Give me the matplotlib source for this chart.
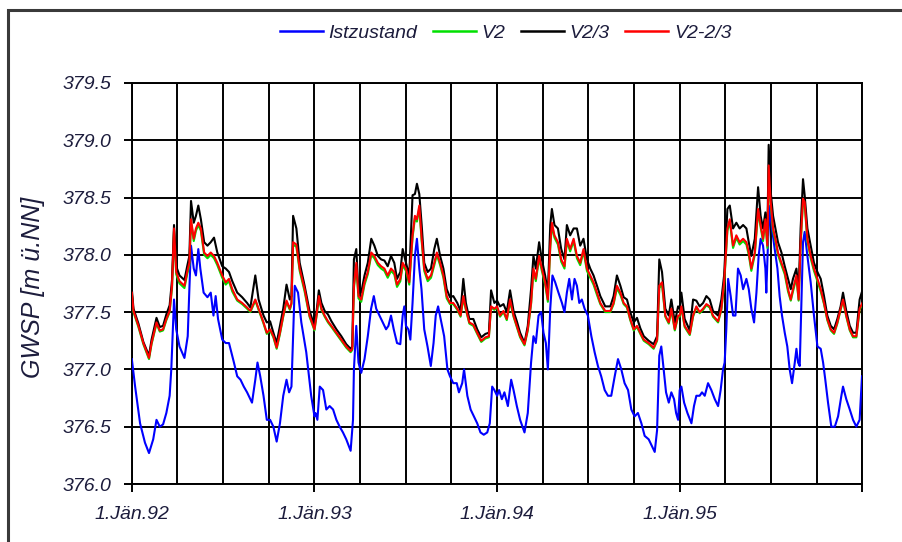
import matplotlib
matplotlib.use('Agg')
import matplotlib.pyplot as plt
from matplotlib.patches import Rectangle
from matplotlib.ticker import MultipleLocator, FixedLocator

plt.rcParams['font.family'] = ['Liberation Sans', 'DejaVu Sans']

# Zeit in Jahren ab 1.1.1992, GWSP in m ü.NN
t_ist = [
    0.000, 0.018, 0.045, 0.072, 0.094, 0.117, 0.135, 0.153, 0.171, 0.189,
    0.207, 0.216, 0.231, 0.243, 0.261, 0.288, 0.306, 0.315, 0.324, 0.339,
    0.351, 0.364, 0.375, 0.393, 0.414, 0.432, 0.447, 0.459, 0.472, 0.495,
    0.514, 0.532, 0.559, 0.577, 0.595, 0.613, 0.631, 0.658, 0.676, 0.688,
    0.703, 0.721, 0.739, 0.757, 0.775, 0.793, 0.811, 0.829, 0.847, 0.861,
    0.874, 0.892, 0.910, 0.928, 0.955, 0.982,
    1.000, 1.005, 1.016, 1.029, 1.047, 1.065, 1.083, 1.102, 1.120, 1.138,
    1.156, 1.174, 1.198, 1.211, 1.216, 1.229, 1.241, 1.256, 1.274, 1.292,
    1.310, 1.325, 1.338, 1.356, 1.374, 1.392, 1.405, 1.419, 1.434, 1.452,
    1.470, 1.483, 1.492, 1.501, 1.514, 1.525, 1.537, 1.550, 1.561, 1.574,
    1.586, 1.601, 1.619, 1.637, 1.652, 1.664, 1.677, 1.691, 1.710, 1.728,
    1.742, 1.760, 1.779, 1.791, 1.809, 1.819, 1.837, 1.855, 1.873, 1.891,
    1.909, 1.927, 1.946, 1.960, 1.973, 1.985,
    2.000, 2.011, 2.026, 2.040, 2.059, 2.077, 2.090, 2.108, 2.126, 2.150,
    2.168, 2.186, 2.199, 2.212, 2.227, 2.241, 2.254, 2.267, 2.278, 2.291,
    2.303, 2.318, 2.336, 2.355, 2.369, 2.382, 2.395, 2.410, 2.424, 2.437,
    2.450, 2.464, 2.479, 2.497, 2.516, 2.534, 2.552, 2.570, 2.589, 2.607,
    2.625, 2.644, 2.662, 2.680, 2.698, 2.717, 2.735, 2.753, 2.771, 2.790,
    2.808, 2.830, 2.848, 2.863, 2.876, 2.888, 2.899, 2.912, 2.925, 2.940,
    2.954, 2.969, 2.980, 2.991,
    3.000, 3.009, 3.024, 3.042, 3.064, 3.078, 3.091, 3.109, 3.122, 3.137,
    3.155, 3.173, 3.192, 3.210, 3.224, 3.237, 3.246, 3.255, 3.265, 3.279,
    3.292, 3.305, 3.319, 3.334, 3.347, 3.365, 3.378, 3.392, 3.407, 3.420,
    3.432, 3.443, 3.456, 3.469, 3.474, 3.484, 3.495, 3.505, 3.520, 3.535,
    3.547, 3.560, 3.575, 3.589, 3.602, 3.615, 3.630, 3.639, 3.648, 3.657,
    3.666, 3.675, 3.684, 3.699, 3.717, 3.735, 3.754, 3.772, 3.785, 3.797,
    3.812, 3.830, 3.849, 3.867, 3.885, 3.894, 3.912, 3.931, 3.949, 3.967,
    3.985, 3.998,
]
istzustand = [
    377.09, 376.85, 376.53, 376.36, 376.27, 376.39, 376.56, 376.50, 376.52, 376.62,
    376.77, 377.00, 377.61, 377.35, 377.20, 377.10, 377.29, 377.70, 378.08, 377.88,
    377.82, 378.05, 377.88, 377.67, 377.63, 377.67, 377.47, 377.64, 377.44, 377.26,
    377.23, 377.23, 377.06, 376.94, 376.91, 376.85, 376.80, 376.71, 376.91, 377.06,
    376.94, 376.77, 376.56, 376.56, 376.50, 376.37, 376.53, 376.77, 376.91, 376.80,
    376.85, 377.73, 377.67, 377.41, 377.15, 376.77,
    376.59, 376.62, 376.56, 376.85, 376.82, 376.65, 376.68, 376.65, 376.56, 376.50,
    376.45, 376.39, 376.29, 376.56, 377.00, 377.38, 377.06, 376.97, 377.09, 377.29,
    377.53, 377.64, 377.53, 377.47, 377.41, 377.35, 377.38, 377.47, 377.35, 377.23,
    377.22, 377.47, 377.55, 377.38, 377.35, 377.26, 377.58, 377.99, 378.14, 377.88,
    377.70, 377.35, 377.20, 377.03, 377.23, 377.47, 377.55, 377.44, 377.29, 377.00,
    376.94, 376.88, 376.88, 376.80, 376.88, 377.00, 376.77, 376.65, 376.59, 376.53,
    376.45, 376.43, 376.45, 376.53, 376.85, 376.82,
    376.77, 376.82, 376.74, 376.80, 376.68, 376.91, 376.82, 376.68, 376.56, 376.45,
    376.62, 377.06, 377.29, 377.23, 377.47, 377.50, 377.32, 377.23, 377.00, 377.53,
    377.82, 377.76, 377.67, 377.58, 377.50, 377.67, 377.79, 377.61, 377.79, 377.73,
    377.58, 377.61, 377.53, 377.47, 377.29, 377.15, 377.03, 376.94, 376.82, 376.77,
    376.77, 376.94, 377.09, 377.00, 376.88, 376.82, 376.65, 376.59, 376.62, 376.53,
    376.42, 376.39, 376.33, 376.28, 376.47, 377.12, 377.20, 377.00, 376.80, 376.71,
    376.80, 376.74, 376.62, 376.56,
    376.82, 376.85, 376.71, 376.62, 376.53, 376.68, 376.77, 376.77, 376.80, 376.77,
    376.88, 376.82, 376.74, 376.68, 376.82, 377.00, 377.06, 377.35, 377.79, 377.64,
    377.47, 377.47, 377.88, 377.82, 377.70, 377.79, 377.70, 377.53, 377.41, 377.67,
    377.99, 378.14, 378.08, 377.88, 377.67, 378.14, 378.43, 378.23, 378.05, 377.88,
    377.64, 377.47, 377.32, 377.20, 377.00, 376.88, 377.06, 377.18, 377.06, 377.03,
    377.58, 378.11, 378.20, 377.99, 377.76, 377.47, 377.20, 377.18, 377.06, 376.91,
    376.71, 376.50, 376.50, 376.59, 376.77, 376.85, 376.74, 376.65, 376.56, 376.50,
    376.56, 376.94,
]

t_var = [
    0.000, 0.009, 0.036, 0.063, 0.094, 0.108, 0.135, 0.153, 0.171, 0.189,
    0.207, 0.220, 0.231, 0.243, 0.261, 0.288, 0.303, 0.315, 0.324, 0.339,
    0.351, 0.364, 0.378, 0.396, 0.414, 0.432, 0.450, 0.468, 0.495, 0.514,
    0.532, 0.550, 0.577, 0.604, 0.631, 0.649, 0.676, 0.694, 0.721, 0.739,
    0.757, 0.775, 0.793, 0.811, 0.829, 0.847, 0.865, 0.874, 0.883, 0.901,
    0.919, 0.946, 0.973,
    1.000, 1.011, 1.024, 1.038, 1.056, 1.074, 1.093, 1.120, 1.147, 1.174,
    1.198, 1.207, 1.216, 1.229, 1.241, 1.256, 1.274, 1.292, 1.311, 1.328,
    1.347, 1.365, 1.383, 1.401, 1.419, 1.437, 1.452, 1.470, 1.483, 1.501,
    1.519, 1.537, 1.550, 1.561, 1.574, 1.587, 1.601, 1.620, 1.638, 1.656,
    1.670, 1.688, 1.706, 1.724, 1.742, 1.760, 1.782, 1.800, 1.815, 1.829,
    1.848, 1.870, 1.891, 1.913, 1.936, 1.955, 1.967, 1.985,
    2.000, 2.016, 2.035, 2.053, 2.071, 2.090, 2.108, 2.126, 2.150, 2.168,
    2.186, 2.199, 2.212, 2.230, 2.245, 2.263, 2.278, 2.291, 2.300, 2.314,
    2.333, 2.351, 2.369, 2.382, 2.400, 2.419, 2.437, 2.455, 2.473, 2.492,
    2.510, 2.528, 2.547, 2.565, 2.592, 2.620, 2.638, 2.656, 2.675, 2.693,
    2.711, 2.729, 2.748, 2.766, 2.784, 2.803, 2.830, 2.857, 2.876, 2.888,
    2.903, 2.921, 2.940, 2.954, 2.973, 2.991,
    3.000, 3.009, 3.027, 3.055, 3.073, 3.091, 3.109, 3.128, 3.146, 3.164,
    3.182, 3.210, 3.228, 3.243, 3.261, 3.274, 3.292, 3.310, 3.328, 3.347,
    3.365, 3.378, 3.392, 3.411, 3.429, 3.443, 3.456, 3.469, 3.480, 3.487,
    3.498, 3.511, 3.524, 3.538, 3.557, 3.575, 3.593, 3.608, 3.620, 3.639,
    3.651, 3.662, 3.675, 3.684, 3.699, 3.717, 3.735, 3.754, 3.772, 3.790,
    3.808, 3.827, 3.845, 3.863, 3.881, 3.894, 3.912, 3.931, 3.949, 3.967,
    3.985, 4.000,
]
v2 = [
    377.66, 377.50, 377.37, 377.22, 377.09, 377.22, 377.40, 377.33, 377.34, 377.43,
    377.50, 377.71, 378.21, 377.83, 377.75, 377.71, 377.83, 377.91, 378.29, 378.12,
    378.21, 378.26, 378.21, 378.00, 377.97, 378.00, 377.97, 377.91, 377.80, 377.74,
    377.77, 377.68, 377.60, 377.57, 377.53, 377.50, 377.60, 377.52, 377.40, 377.31,
    377.34, 377.28, 377.18, 377.31, 377.46, 377.59, 377.52, 377.57, 378.09, 378.07,
    377.86, 377.68, 377.46,
    377.34, 377.46, 377.62, 377.52, 377.46, 377.41, 377.37, 377.31, 377.25, 377.19,
    377.15, 377.17, 377.71, 377.91, 377.62, 377.59, 377.74, 377.83, 378.00, 377.97,
    377.91, 377.88, 377.86, 377.80, 377.86, 377.83, 377.72, 377.77, 377.91, 377.86,
    377.74, 378.15, 378.32, 378.29, 378.41, 378.12, 377.86, 377.77, 377.80, 377.91,
    378.00, 377.91, 377.80, 377.62, 377.57, 377.57, 377.52, 377.46, 377.62, 377.52,
    377.40, 377.38, 377.31, 377.24, 377.27, 377.28, 377.54, 377.52,
    377.54, 377.46, 377.50, 377.43, 377.59, 377.46, 377.37, 377.28, 377.21, 377.34,
    377.57, 377.86, 377.77, 377.97, 377.86, 377.74, 377.59, 378.06, 378.26, 378.15,
    378.09, 377.94, 377.88, 378.12, 378.03, 378.12, 377.97, 377.91, 378.03, 377.86,
    377.80, 377.74, 377.65, 377.57, 377.50, 377.50, 377.57, 377.71, 377.65, 377.57,
    377.54, 377.43, 377.34, 377.37, 377.31, 377.25, 377.22, 377.18, 377.25, 377.71,
    377.74, 377.46, 377.40, 377.52, 377.34, 377.46,
    377.46, 377.54, 377.37, 377.30, 377.46, 377.54, 377.49, 377.52, 377.56, 377.54,
    377.46, 377.41, 377.52, 377.74, 378.21, 378.29, 378.06, 378.15, 378.09, 378.12,
    378.09, 378.00, 377.86, 378.00, 378.38, 378.24, 378.12, 378.29, 378.06, 378.76,
    378.44, 378.21, 378.12, 378.00, 377.91, 377.83, 377.68, 377.60, 377.68, 377.80,
    377.60, 378.09, 378.47, 378.44, 378.12, 377.97, 377.86, 377.77, 377.68, 377.57,
    377.43, 377.34, 377.31, 377.40, 377.52, 377.60, 377.46, 377.34, 377.28, 377.28,
    377.52, 377.57,
]
v2_3 = [
    377.70, 377.53, 377.40, 377.24, 377.12, 377.26, 377.45, 377.37, 377.38, 377.48,
    377.56, 377.78, 378.26, 377.90, 377.82, 377.78, 377.90, 377.99, 378.47, 378.28,
    378.34, 378.43, 378.31, 378.11, 378.08, 378.11, 378.15, 378.02, 377.90, 377.88,
    377.85, 377.77, 377.67, 377.63, 377.58, 377.54, 377.82, 377.61, 377.47, 377.41,
    377.42, 377.32, 377.23, 377.38, 377.53, 377.74, 377.61, 377.64, 378.34, 378.23,
    377.93, 377.73, 377.51,
    377.38, 377.50, 377.69, 377.58, 377.51, 377.48, 377.42, 377.35, 377.29, 377.22,
    377.18, 377.20, 377.96, 378.05, 377.67, 377.67, 377.82, 377.93, 378.14, 378.08,
    377.99, 377.96, 377.95, 377.90, 377.99, 377.93, 377.79, 377.85, 378.05, 377.93,
    377.82, 378.52, 378.53, 378.62, 378.53, 378.26, 377.93, 377.85, 377.88, 378.05,
    378.14, 377.99, 377.88, 377.70, 377.63, 377.64, 377.58, 377.51, 377.79, 377.58,
    377.44, 377.44, 377.35, 377.28, 377.31, 377.32, 377.69, 377.58,
    377.60, 377.55, 377.57, 377.50, 377.69, 377.51, 377.42, 377.32, 377.23, 377.38,
    377.70, 377.99, 377.88, 378.11, 377.96, 377.82, 377.67, 378.26, 378.40, 378.26,
    378.23, 378.05, 377.96, 378.26, 378.17, 378.23, 378.23, 378.08, 378.14, 377.96,
    377.88, 377.82, 377.73, 377.64, 377.55, 377.55, 377.64, 377.82, 377.73, 377.63,
    377.61, 377.50, 377.41, 377.45, 377.36, 377.29, 377.25, 377.22, 377.29, 377.96,
    377.85, 377.53, 377.47, 377.61, 377.41, 377.55,
    377.53, 377.67, 377.44, 377.34, 377.61, 377.60, 377.55, 377.58, 377.64, 377.61,
    377.51, 377.47, 377.61, 377.82, 378.40, 378.43, 378.23, 378.28, 378.23, 378.26,
    378.23, 378.11, 377.99, 378.14, 378.59, 378.34, 378.23, 378.37, 378.17, 378.96,
    378.55, 378.34, 378.23, 378.11, 378.02, 377.90, 377.79, 377.70, 377.79, 377.88,
    377.67, 378.23, 378.66, 378.52, 378.23, 378.08, 377.93, 377.85, 377.79, 377.64,
    377.47, 377.38, 377.35, 377.44, 377.55, 377.67, 377.51, 377.38, 377.32, 377.32,
    377.61, 377.69,
]
v2_2_3 = [
    377.67, 377.51, 377.38, 377.23, 377.10, 377.23, 377.41, 377.34, 377.35, 377.44,
    377.51, 377.73, 378.23, 377.85, 377.77, 377.73, 377.85, 377.93, 378.31, 378.14,
    378.23, 378.28, 378.23, 378.02, 377.99, 378.02, 377.99, 377.93, 377.82, 377.76,
    377.79, 377.70, 377.61, 377.58, 377.54, 377.51, 377.61, 377.53, 377.41, 377.32,
    377.35, 377.29, 377.19, 377.32, 377.47, 377.60, 377.53, 377.58, 378.11, 378.09,
    377.88, 377.70, 377.47,
    377.35, 377.47, 377.64, 377.53, 377.47, 377.42, 377.38, 377.32, 377.26, 377.20,
    377.16, 377.18, 377.73, 377.93, 377.64, 377.61, 377.76, 377.85, 378.02, 377.99,
    377.93, 377.90, 377.88, 377.82, 377.88, 377.85, 377.74, 377.79, 377.93, 377.88,
    377.76, 378.17, 378.34, 378.31, 378.43, 378.14, 377.88, 377.79, 377.82, 377.93,
    378.02, 377.93, 377.82, 377.64, 377.58, 377.58, 377.53, 377.47, 377.64, 377.53,
    377.41, 377.39, 377.32, 377.25, 377.28, 377.29, 377.55, 377.53,
    377.55, 377.47, 377.51, 377.44, 377.61, 377.47, 377.38, 377.29, 377.22, 377.35,
    377.58, 377.88, 377.79, 377.99, 377.88, 377.76, 377.61, 378.08, 378.28, 378.17,
    378.11, 377.96, 377.90, 378.14, 378.05, 378.14, 377.99, 377.93, 378.05, 377.88,
    377.82, 377.76, 377.67, 377.58, 377.51, 377.51, 377.58, 377.73, 377.67, 377.58,
    377.55, 377.44, 377.35, 377.38, 377.32, 377.26, 377.23, 377.19, 377.26, 377.73,
    377.76, 377.47, 377.41, 377.53, 377.35, 377.47,
    377.47, 377.55, 377.38, 377.31, 377.47, 377.55, 377.50, 377.53, 377.57, 377.55,
    377.47, 377.42, 377.53, 377.76, 378.23, 378.31, 378.08, 378.17, 378.11, 378.14,
    378.11, 378.02, 377.88, 378.02, 378.40, 378.26, 378.14, 378.31, 378.08, 378.78,
    378.46, 378.23, 378.14, 378.02, 377.93, 377.85, 377.70, 377.61, 377.70, 377.82,
    377.61, 378.11, 378.49, 378.46, 378.14, 377.99, 377.88, 377.79, 377.70, 377.58,
    377.44, 377.35, 377.32, 377.41, 377.53, 377.61, 377.47, 377.35, 377.29, 377.29,
    377.53, 377.58,
]

jahr_ticks = [0, 1, 2, 3, 4]
jahr_labels = ['1.Jän.92', '1.Jän.93', '1.Jän.94', '1.Jän.95', '']

textfarbe = '#1c1c3c'

fig = plt.figure(figsize=(9.03, 5.42), dpi=100, facecolor='white')
ax = fig.add_axes([0.146, 0.107, 0.809, 0.740])

lw = 1.5
ax.plot(t_ist, istzustand, color='#0000ff', lw=lw, label='Istzustand', zorder=3)
ax.plot(t_var, v2, color='#00e000', lw=lw, label='V2', zorder=4)
ax.plot(t_var, v2_3, color='black', lw=lw, label='V2/3', zorder=5)
ax.plot(t_var, v2_2_3, color='#ff0000', lw=lw, label='V2-2/3', zorder=6)

ax.set_xlim(0, 4)
ax.set_ylim(376.0, 379.5)
ax.xaxis.set_major_locator(FixedLocator(jahr_ticks))
ax.xaxis.set_minor_locator(MultipleLocator(0.25))
ax.set_xticklabels(jahr_labels)
ax.yaxis.set_major_locator(MultipleLocator(0.5))
ax.yaxis.set_major_formatter(plt.FormatStrFormatter('%.1f'))

ax.grid(True, which='both', color='black', lw=1.4, zorder=1)
ax.set_axisbelow(True)
for sp in ax.spines.values():
    sp.set_color('black')
    sp.set_linewidth(1.4)

ax.tick_params(axis='x', which='major', direction='out', length=6, width=1.4,
               pad=10, labelsize=14, labelcolor=textfarbe)
ax.tick_params(axis='x', which='minor', length=0)
ax.tick_params(axis='y', direction='out', length=6, width=1.4, pad=9,
               labelsize=14, labelcolor=textfarbe)
for lab in ax.get_xticklabels() + ax.get_yticklabels():
    lab.set_style('italic')

ax.set_ylabel('GWSP [m ü.NN]', fontsize=18, style='italic', color=textfarbe)
ax.yaxis.set_label_coords(-0.119, 0.49)

leg = fig.legend(loc='center', bbox_to_anchor=(0.56, 0.939), ncol=4, frameon=False,
                 handlelength=2.2, handletextpad=0.3, columnspacing=0.8,
                 prop={'style': 'italic', 'size': 14})
for txt in leg.get_texts():
    txt.set_color(textfarbe)
for h in leg.legend_handles:
    h.set_linewidth(1.8)

# Rahmen um die Grafik
fig.add_artist(Rectangle((8 / 903, -0.1), 1.2, 1.0815, transform=fig.transFigure,
                         fill=False, edgecolor='#3a3a3a', lw=2.2, zorder=10))

fig.savefig('out.png', dpi=100, facecolor='white')
